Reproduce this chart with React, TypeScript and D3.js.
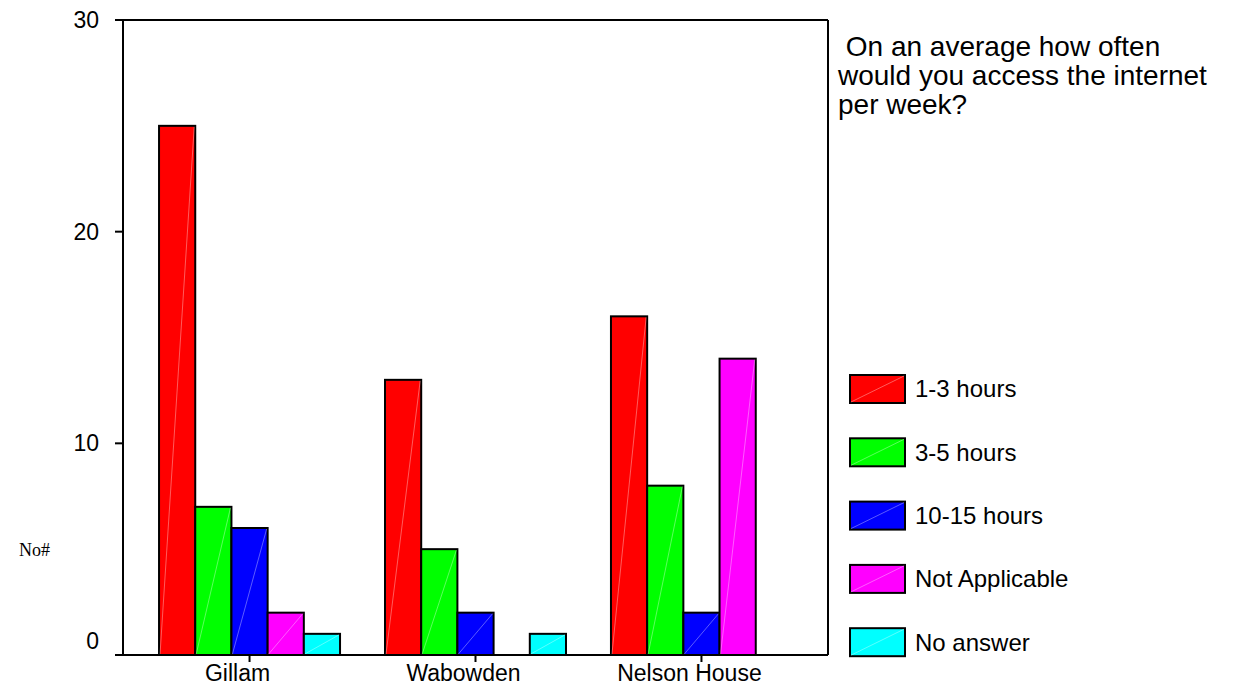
import React from "react";
import * as d3 from "d3";

const groups = ["Gillam", "Wabowden", "Nelson House"];
const seriesNames = ["1-3 hours", "3-5 hours", "10-15 hours", "Not Applicable", "No answer"];
const seriesColors = ["#ff0000", "#00ff00", "#0000ff", "#ff00ff", "#00ffff"];
const values1to3 = [25, 13, 16];
const values3to5 = [7, 5, 8];
const values10to15 = [6, 2, 2];
const valuesNA = [2, 0, 14];
const valuesNoAnswer = [1, 1, 0];
const yTicks = [0, 10, 20, 30];
const titleLines = [" On an average how often", "would you access the internet", "per week?"];
const yAxisTitle = "No#";

const seriesValues = [values1to3, values3to5, values10to15, valuesNA, valuesNoAnswer];

export default function App() {
  const W = 1243, H = 687;
  const left = 123, right = 828, top = 20, bottom = 655;
  const sans = "'Liberation Sans', Arial, sans-serif";
  const fs = 24;

  const y = d3.scaleLinear().domain([0, 30]).range([bottom, top]);
  const x = d3.scalePoint<string>().domain(groups).range([left, right]).padding(0.56);
  const inner = d3.scaleBand<number>().domain(d3.range(seriesNames.length)).range([-90.5, 90.5]).padding(0);
  const bw = inner.bandwidth();

  return (
    <svg width={W} height={H} style={{ position: "absolute", left: 0, top: 0, background: "#fff" }}>
      {/* bars */}
      {groups.map((g, gi) =>
        seriesValues.map((vals, si) => {
          const v = vals[gi];
          if (!v) return null;
          const x0 = (x(g) as number) + (inner(si) as number);
          const y0 = y(v);
          const h = y(0) - y0;
          return (
            <g key={g + si}>
              <rect x={x0} y={y0} width={bw} height={h} fill={seriesColors[si]} stroke="#000" strokeWidth={2} />
              <line x1={x0 + 1} y1={y(0) - 1} x2={x0 + bw - 1} y2={y0 + 1} stroke="#fff" strokeOpacity={0.45} strokeWidth={0.8} />
            </g>
          );
        })
      )}
      {/* frame */}
      <line x1={left} y1={top} x2={left} y2={bottom} stroke="#000" strokeWidth={2} />
      <line x1={left - 8} y1={top} x2={right} y2={top} stroke="#000" strokeWidth={2} />
      <line x1={right} y1={top} x2={right} y2={bottom} stroke="#000" strokeWidth={2} />
      <line x1={left - 8} y1={bottom} x2={right} y2={bottom} stroke="#000" strokeWidth={2} />
      {/* y ticks */}
      {yTicks.map((t) => (
        <g key={t}>
          <line x1={left - 8} y1={y(t)} x2={left} y2={y(t)} stroke="#000" strokeWidth={2} />
          <text x={99} y={y(t) - (t === 0 ? 14 : 0)} dy="0.35em" textAnchor="end" fontFamily={sans} fontSize={23}>
            {t}
          </text>
        </g>
      ))}
      {/* x ticks */}
      {groups.map((g) => (
        <g key={g}>
          <line x1={x(g) as number} y1={bottom} x2={x(g) as number} y2={bottom + 7} stroke="#000" strokeWidth={2} />
          <text x={(x(g) as number) - 12} y={681} textAnchor="middle" fontFamily={sans} fontSize={23}>
            {g}
          </text>
        </g>
      ))}
      {/* y axis title */}
      <text x={19} y={556} fontFamily="'Liberation Serif', 'Times New Roman', serif" fontSize={18}>
        {yAxisTitle}
      </text>
      {/* title */}
      {titleLines.map((l, i) => (
        <text key={i} x={838} y={56 + i * 29} fontFamily={sans} fontSize={28} style={{ whiteSpace: "pre" }}>
          {l}
        </text>
      ))}
      {/* legend */}
      {seriesNames.map((s, i) => {
        const ly = 375 + i * 63.3;
        return (
          <g key={s}>
            <rect x={850} y={ly} width={55} height={28} fill={seriesColors[i]} stroke="#000" strokeWidth={2} />
            <line x1={851} y1={ly + 27} x2={904} y2={ly + 1} stroke="#fff" strokeOpacity={0.45} strokeWidth={0.8} />
            <text x={915} y={ly + 14} dy="0.35em" fontFamily={sans} fontSize={fs}>
              {s}
            </text>
          </g>
        );
      })}
    </svg>
  );
}
